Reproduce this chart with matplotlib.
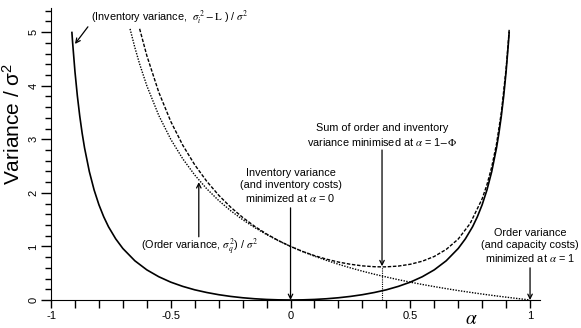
import matplotlib
matplotlib.use('Agg')
import matplotlib.pyplot as plt
from matplotlib.ticker import MultipleLocator

plt.rcParams['font.family'] = ['Liberation Sans', 'DejaVu Sans']
plt.rcParams['mathtext.fontset'] = 'stix'

# inventory variance (sigma_i^2 - L) / sigma^2
alpha_inv = [-0.913, -0.91, -0.9, -0.89, -0.88, -0.87, -0.86, -0.84, -0.82, -0.8, -0.78, -0.76,
             -0.73, -0.7, -0.65, -0.6, -0.55, -0.5, -0.45, -0.4, -0.35, -0.3, -0.25, -0.2,
             -0.15, -0.1, -0.05, 0.0, 0.05, 0.1, 0.15, 0.2, 0.25, 0.3, 0.35, 0.4, 0.45, 0.5,
             0.55, 0.6, 0.65, 0.7, 0.73, 0.76, 0.78, 0.8, 0.82, 0.84, 0.86, 0.87, 0.88, 0.89,
             0.9, 0.91, 0.913]
inv_var = [5.01, 4.817, 4.263, 3.810, 3.433, 3.114, 2.840, 2.397, 2.053, 1.778, 1.554, 1.367,
           1.142, 0.961, 0.732, 0.5625, 0.434, 0.333, 0.254, 0.190, 0.140, 0.0989, 0.0667, 0.0417,
           0.0230, 0.0101, 0.0025, 0.0, 0.0025, 0.0101, 0.0230, 0.0417, 0.0667, 0.0989, 0.140, 0.190,
           0.254, 0.333, 0.434, 0.5625, 0.732, 0.961, 1.142, 1.367, 1.554, 1.778, 2.053, 2.397,
           2.840, 3.114, 3.433, 3.810, 4.263, 4.817, 5.01]

# order variance sigma_q^2 / sigma^2
alpha_ord = [-0.67, -0.65, -0.63, -0.6, -0.55, -0.5, -0.45, -0.4, -0.35, -0.3, -0.25, -0.2,
             -0.15, -0.1, -0.05, 0.0, 0.05, 0.1, 0.15, 0.2, 0.25, 0.3, 0.35, 0.4, 0.45, 0.5,
             0.55, 0.6, 0.65, 0.7, 0.75, 0.8, 0.85, 0.9, 0.95, 1.0]
ord_var = [5.061, 4.714, 4.405, 4.0, 3.444, 3.0, 2.636, 2.333, 2.077, 1.857, 1.667, 1.5,
           1.353, 1.222, 1.105, 1.0, 0.905, 0.818, 0.739, 0.667, 0.6, 0.538, 0.481, 0.429,
           0.379, 0.333, 0.290, 0.25, 0.212, 0.176, 0.143, 0.111, 0.081, 0.053, 0.026, 0.0]

# sum of order and inventory variance
alpha_sum = [-0.63, -0.6, -0.55, -0.5, -0.45, -0.4, -0.35, -0.3, -0.25, -0.2, -0.15, -0.1,
             -0.05, 0.0, 0.05, 0.1, 0.15, 0.2, 0.25, 0.3, 0.35, 0.382, 0.4, 0.45, 0.5, 0.55,
             0.6, 0.65, 0.7, 0.75, 0.8, 0.82, 0.84, 0.86, 0.88, 0.9, 0.91, 0.913]
sum_var = [5.063, 4.5625, 3.878, 3.333, 2.890, 2.524, 2.217, 1.956, 1.733, 1.542, 1.376, 1.232,
           1.108, 1.0, 0.907, 0.828, 0.762, 0.708, 0.667, 0.637, 0.621, 0.618, 0.619, 0.633,
           0.667, 0.724, 0.8125, 0.944, 1.137, 1.429, 1.889, 2.152, 2.484, 2.915, 3.497, 4.316,
           4.864, 5.055]

alpha_min = 0.382
sum_min = 0.618

fig = plt.figure(figsize=(5.81, 3.28), dpi=100)
ax = fig.add_axes([0.0878, 0.0854, 0.841, 0.89])

ax.plot(alpha_inv, inv_var, color='black', lw=1.2, solid_capstyle='butt')
ax.plot(alpha_ord, ord_var, color='black', lw=1.0, ls=(0, (1, 1)))
ax.plot(alpha_sum, sum_var, color='black', lw=1.0, ls=(0, (2.5, 1.2)))
ax.plot([alpha_min, alpha_min], [0, sum_min], color='black', lw=0.8, ls=(0, (1, 1)))

ax.set_xlim(-1, 1.04)
ax.set_ylim(0, 5.45)
ax.spines['top'].set_visible(False)
ax.spines['right'].set_visible(False)
ax.xaxis.set_major_locator(MultipleLocator(0.5))
ax.xaxis.set_minor_locator(MultipleLocator(0.1))
ax.yaxis.set_major_locator(MultipleLocator(1))
ax.yaxis.set_minor_locator(MultipleLocator(0.2))
ax.set_xticks([-1, -0.5, 0, 0.5, 1])
ax.set_xticklabels(['-1', '-0.5', '0', '0.5', '1'])
ax.tick_params(axis='x', which='both', direction='out', length=6, width=1, labelsize=8, pad=2)
ax.tick_params(axis='y', which='major', direction='out', length=7, width=1, labelsize=8, pad=2)
ax.tick_params(axis='y', which='minor', direction='out', length=4, width=1)
for lbl in ax.get_yticklabels():
    lbl.set_rotation(90)
    lbl.set_va('center')

ax.text(-1.16, 3.28, r'Variance / $\mathregular{\sigma^2}$', rotation=90, fontsize=15,
        ha='center', va='center')
ax.text(0.755, -0.36, r'$\alpha$', fontsize=14, ha='center', va='center')

fs = 7.8
arrow = dict(arrowstyle='->', color='black', lw=0.9, shrinkA=0, shrinkB=0, mutation_scale=8)

ax.text(-0.835, 5.26, r'(Inventory variance,  $\sigma_i^{\,2}-\mathrm{L}$ ) / $\sigma^2$',
        fontsize=fs, ha='left', va='center')
ax.annotate('', xy=(-0.9, 4.78), xytext=(-0.846, 5.1), arrowprops=arrow)

ax.text(-0.38, 0.99, r'(Order variance, $\sigma_q^{\,2}$) / $\sigma^2$', fontsize=fs,
        ha='center', va='center')
ax.annotate('', xy=(-0.383, 2.2), xytext=(-0.383, 1.18), arrowprops=arrow)

ax.text(0, 2.13, 'Inventory variance\n(and inventory costs)\nminimized at $\\alpha$ = 0',
        fontsize=fs, ha='center', va='center', linespacing=1.25)
ax.annotate('', xy=(0, 0), xytext=(0, 1.72), arrowprops=arrow)

ax.text(0.382, 3.07, 'Sum of order and inventory\nvariance minimised at $\\alpha$ = 1$-\\Phi$',
        fontsize=fs, ha='center', va='center', linespacing=1.25)
ax.annotate('', xy=(0.382, 0.63), xytext=(0.382, 2.8), arrowprops=arrow)

ax.text(1.0, 1.01, 'Order variance\n(and capacity costs)\nminimized at $\\alpha$ = 1',
        fontsize=fs, ha='center', va='center', linespacing=1.25)
ax.annotate('', xy=(1.0, 0), xytext=(1.0, 0.6), arrowprops=arrow)

fig.savefig('out.png', dpi=100)
